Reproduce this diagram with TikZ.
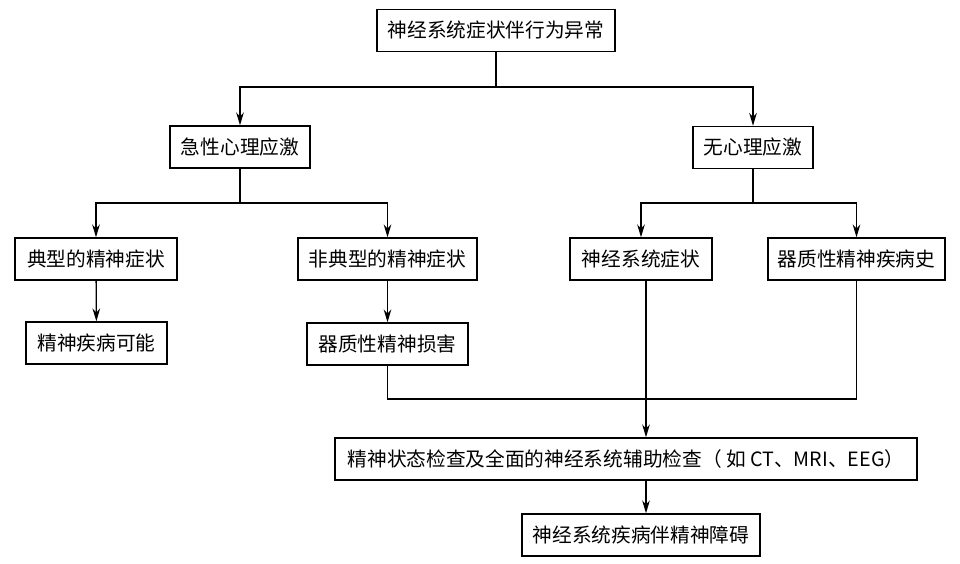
\documentclass[tikz,border=0pt]{standalone}
\usepackage{fontspec}
\setmainfont{Noto Sans CJK SC}
\usetikzlibrary{arrows.meta}

\begin{document}
\begin{tikzpicture}[x=0.03cm, y=-0.03cm,
		box/.style={draw, line width=1.2pt, minimum height=1.26cm, inner sep=0pt, font=\fontsize{16.8}{19}\selectfont},
		ln/.style={line width=1.1pt},
		arr/.style={ln, -{Stealth[length=11pt, width=6.5pt]}}]
		\fill[white] (0,0) rectangle (960,563);
		\useasboundingbox (0,0) rectangle (960,563);

		\node [box, minimum width=7.14cm] (top) at (496,30.5) {神经系统症状伴行为异常};
		\node [box, minimum width=4.2cm] (acute) at (240,147) {急性心理应激};
		\node [box, minimum width=3.6cm] (none) at (753,147.5) {无心理应激};
		\node [box, minimum width=4.86cm] (typ) at (96,259) {典型的精神症状};
		\node [box, minimum width=5.37cm] (atyp) at (387.5,259) {非典型的精神症状};
		\node [box, minimum width=4.26cm] (ns) at (641,259) {神经系统症状};
		\node [box, minimum width=5.31cm] (hist) at (856.5,259) {器质性精神疾病史};
		\node [box, minimum width=4.23cm] (poss) at (96.5,343) {精神疾病可能};
		\node [box, minimum width=4.83cm] (dmg) at (387.5,344) {器质性精神损害};
		\node [box, minimum width=17.46cm] (exam) at (626,459) {精神状态检查及全面的神经系统辅助检查（ 如 CT、MRI、EEG）};
		\node [box, minimum width=7.14cm] (final) at (641,535) {神经系统疾病伴精神障碍};

		\coordinate (j1) at (496,87);
		\coordinate (j2) at (240,203);
		\coordinate (j3) at (753,203);
		\coordinate (j4) at (646,399);

		\draw[ln] (top) -- (j1);
		\draw[arr] (j1) -| (acute);
		\draw[arr] (j1) -| (none);

		\draw[ln] (acute) -- (j2);
		\draw[arr] (j2) -| (typ);
		\draw[arr] (j2) -| (atyp);
		\draw[ln] (none) -- (j3);
		\draw[arr] (j3) -| (ns);
		\draw[arr] (j3) -| (hist);

		\draw[arr] (typ) -- (poss);
		\draw[arr] (atyp) -- (dmg);

		\draw[ln] (dmg) |- (j4);
		\draw[ln] (hist) |- (j4);
		\draw[ln] (ns.south -| j4) -- (j4);
		\draw[arr] (j4) -- (exam.north -| j4);
		\draw[arr] (exam.south -| j4) -- (final.north -| j4);
	\end{tikzpicture}
\end{document}
